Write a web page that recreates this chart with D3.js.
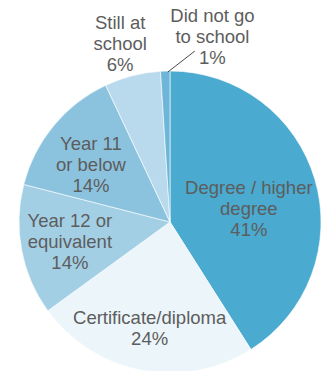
<!DOCTYPE html>
<html>
<head>
<meta charset="utf-8">
<script src="https://cdn.jsdelivr.net/npm/d3@7"></script>
<style>
  html, body { margin: 0; padding: 0; background: #fff; }
  svg { display: block; }
  text { font-family: "Helvetica Neue", Helvetica, "Liberation Sans", Arial, sans-serif; fill: #5d5d5d; }
</style>
</head>
<body>
<svg id="chart" width="321" height="371"></svg>
<script>
// Highest level of education attained (%)
const categories = ["Degree / higher degree", "Certificate/diploma", "Year 12 or equivalent",
                    "Year 11 or below", "Still at school", "Did not go to school"];
const values = [41, 24, 14, 14, 6, 1];
const labelLines = [
  ["Degree / higher", "degree"],
  ["Certificate/diploma"],
  ["Year 12 or", "equivalent"],
  ["Year 11", "or below"],
  ["Still at", "school"],
  ["Did not go", "to school"]
];

const colors = ["#4aaacf", "#ecf5fa", "#a3cfe5", "#8bc3de", "#b8daec", "#6db6d9"];
// label anchor: fraction of the radius along the slice's mid angle, plus a small nudge
const labelRadius = [0.53, 0.72, 0.675, 0.645, 1.22, 1.17];
const labelShift = [[2, 9], [0, 0], [0, 1], [-4, 5], [-4, 0], [48, -8.5]];

const width = 321, height = 371;
const cx = 170, cy = 222, R = 151;
const lineH = 21;

const svg = d3.select("#chart");
const g = svg.append("g").attr("transform", `translate(${cx},${cy})`);

const pie = d3.pie().sort(null).value(d => d.value);
const data = categories.map((c, i) => ({ name: c, value: values[i], lines: labelLines[i], i }));
const arcs = pie(data);

const arc = d3.arc().innerRadius(0).outerRadius(R);

g.selectAll("path.slice")
  .data(arcs)
  .join("path")
  .attr("class", "slice")
  .attr("d", arc)
  .attr("fill", d => colors[d.data.i])
  .attr("stroke", "#fff")
  .attr("stroke-width", 0.6);

// leader line for the small slice
const small = arcs[5];
const mid = (small.startAngle + small.endAngle) / 2;
const p0 = [Math.sin(mid) * (R - 1) + 2.5, -Math.cos(mid) * (R - 1)];
const p1 = [p0[0] + 27, p0[1] - 21];
g.append("line")
  .attr("x1", p0[0]).attr("y1", p0[1])
  .attr("x2", p1[0]).attr("y2", p1[1])
  .attr("stroke", "#333").attr("stroke-width", 0.9);

const labels = g.selectAll("text.label")
  .data(arcs)
  .join("text")
  .attr("class", "label")
  .attr("text-anchor", "middle")
  .attr("font-size", 18.5)
  .attr("transform", d => {
    const k = labelRadius[d.data.i];
    const c = d3.arc().innerRadius(R * k).outerRadius(R * k).centroid(d);
    const s = labelShift[d.data.i];
    return `translate(${c[0] + s[0]},${c[1] + s[1]})`;
  });

labels.each(function(d) {
  const lines = d.data.lines.concat([d.data.value + "%"]);
  const t = d3.select(this);
  const y0 = -((lines.length - 1) * lineH) / 2 + 6;
  lines.forEach((l, j) => {
    t.append("tspan").attr("x", 0).attr("y", y0 + j * lineH).text(l);
  });
});
</script>
</body>
</html>
